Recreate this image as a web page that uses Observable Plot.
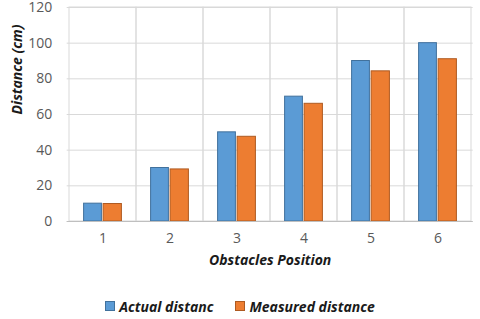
<!DOCTYPE html>
<html>
<head>
<meta charset="utf-8">
<script src="https://cdn.jsdelivr.net/npm/d3@7"></script>
<script src="https://cdn.jsdelivr.net/npm/@observablehq/plot@0.6"></script>
<style>
  body { margin: 0; background: #fff; font-family: "Open Sans", sans-serif; }
  #legend { display: flex; justify-content: center; align-items: center; gap: 22px; height: 20px; margin-top: 21px;
    font-weight: bold; font-style: italic; font-size: 14px; color: #1a1a1a; }
  .item { display: flex; align-items: center; gap: 4px; }
  .sw { width: 8px; height: 8px; }
</style>
</head>
<body>
<div id="chart"></div>
<div id="legend"></div>
<script>
const positions = ["1", "2", "3", "4", "5", "6"];
const actual = [10, 30, 50, 70, 90, 100];
const measured = [9.8, 29.2, 47.5, 66, 84.2, 91];
const seriesNames = ["Actual distanc", "Measured distance"];
const yTicks = [0, 20, 40, 60, 80, 100, 120];
const colors = ["#5b9bd5", "#ed7d31"];
const strokes = ["#41719c", "#ae5a21"];

const rows = positions.map((p, i) => ({pos: p, actual: actual[i], measured: measured[i]}));

const chart = Plot.plot({
  width: 480,
  height: 275,
  marginLeft: 66.7,
  marginRight: 7.3,
  marginTop: 7,
  marginBottom: 54,
  style: {fontFamily: "Open Sans, sans-serif", fontSize: "14px", color: "#595959", background: "#fff", display: "block"},
  x: {domain: positions, padding: 0},
  y: {domain: [0, 120]},
  marks: [
    Plot.gridY(yTicks, {stroke: "#d9d9d9", strokeOpacity: 1}),
    Plot.barY(positions, {x: d => d, y1: 0, y2: 120, fill: "none", stroke: "#d9d9d9"}),
    Plot.barY(rows, {x: "pos", y: "actual", fill: colors[0], stroke: strokes[0], strokeWidth: 1, insetLeft: 14.6, insetRight: 34.6}),
    Plot.barY(rows, {x: "pos", y: "measured", fill: colors[1], stroke: strokes[1], strokeWidth: 1, insetLeft: 34.1, insetRight: 14.6}),
    Plot.ruleY([0], {stroke: "#bfbfbf", strokeWidth: 1.2}),
    Plot.axisY(yTicks, {tickSize: 0, tickPadding: 15, label: null, fill: "#595959"}),
    Plot.axisX({tickSize: 0, tickPadding: 12, label: null, fill: "#595959"}),
    Plot.text(["Distance (cm)"], {frameAnchor: "left", dx: -50, rotate: -90, fontWeight: "bold", fontStyle: "italic", fontSize: 14, fill: "#1a1a1a"}),
    Plot.text(["Obstacles Position"], {frameAnchor: "bottom", dy: 43, fontWeight: "bold", fontStyle: "italic", fontSize: 14, fill: "#1a1a1a"})
  ]
});
document.getElementById("chart").appendChild(chart);

const legend = document.getElementById("legend");
seriesNames.forEach((name, i) => {
  const item = document.createElement("div");
  item.className = "item";
  const sw = document.createElement("div");
  sw.className = "sw";
  sw.style.background = colors[i];
  sw.style.border = "1px solid " + strokes[i];
  const t = document.createElement("span");
  t.textContent = name;
  item.appendChild(sw);
  item.appendChild(t);
  legend.appendChild(item);
});
</script>
</body>
</html>
